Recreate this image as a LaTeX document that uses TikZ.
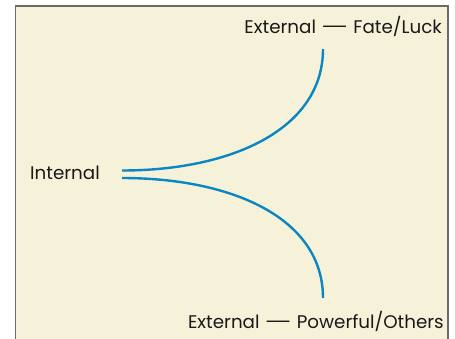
\documentclass[tikz,border=0pt]{standalone}
\usepackage{fontspec}
\setmainfont{Poppins}
\definecolor{paper}{HTML}{F6F2D9}
\definecolor{frame}{HTML}{6A6A66}
\definecolor{branch}{HTML}{0A86C2}
% a longer dash between the two parts of a label
\newcommand{\longdash}{\scalebox{1.7}[1]{—}}
\begin{document}
\begin{tikzpicture}[x=1pt,y=-1pt,
  lbl/.style={inner sep=0pt,font=\fontsize{18.3}{22}\selectfont,text=black!90},
  branchline/.style={draw=branch,line width=2.4pt}]
\useasboundingbox (0,0) rectangle (455,338);
% panel
\fill[paper] (15.5,6) rectangle (448,345);
\draw[frame,line width=1.4pt] (15.5,345) -- (15.5,6) -- (448,6) -- (448,345);
% labels
\node[lbl,anchor=base west] (int) at (30,179) {Internal};
\node[lbl,anchor=base east] (fate) at (442,33) {External \longdash{} Fate/Luck};
\node[lbl,anchor=base east] (others) at (444,328) {External \longdash{} Powerful/Others};
% branch end points
\coordinate (i1) at (122,170.5);
\coordinate (i2) at (122,178);
\coordinate (f) at (323,49);
\coordinate (o) at (323,298);
\path[branchline] (i1) .. controls +(110,0) and +(0,80) .. (f);
\path[branchline] (i2) .. controls +(110,0) and +(0,-80) .. (o);
\end{tikzpicture}
\end{document}
